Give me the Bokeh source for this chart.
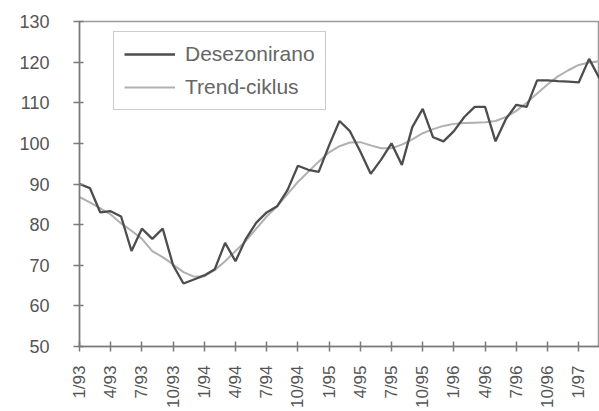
import math
from bokeh.plotting import figure
from bokeh.models import ColumnDataSource, FixedTicker, Legend, LegendItem
from bokeh.embed import file_html
from bokeh.resources import INLINE

# months since 1/93 (0 = 1/93 ... 50 = 3/97)
months = list(range(51))

desezonirano = [90, 89, 83, 83.3, 82, 73.5, 79, 76.5, 79, 70,
                65.5, 66.5, 67.5, 69, 75.5, 71, 76.5, 80.5, 83, 84.5,
                88.5, 94.5, 93.5, 93, 99.5, 105.5, 103, 98, 92.5, 96,
                100, 94.7, 104, 108.5, 101.5, 100.5, 103, 106.5, 109, 109,
                100.5, 106, 109.5, 109, 115.5, 115.5, 115.3, 115.2, 115, 120.8,
                116]

trend_ciklus = [86.8, 85.5, 84, 82.5, 80.3, 78.5, 76.5, 73.5, 72, 70.2,
                68.3, 67.2, 67.3, 68.8, 71, 73.5, 76, 79, 82, 84.5,
                87.5, 90.5, 93, 95.5, 97.8, 99.3, 100.2, 100.3, 99.5, 98.8,
                98.8, 99.7, 101, 102.5, 103.5, 104.3, 104.8, 105, 105.1, 105.2,
                105.5, 106.5, 108, 110, 112.3, 114.5, 116.5, 118, 119.3, 119.9,
                120.2]

tick_positions = [0, 3, 6, 9, 12, 15, 18, 21, 24, 27, 30, 33, 36, 39, 42, 45, 48]
tick_labels = ["1/93", "4/93", "7/93", "10/93", "1/94", "4/94", "7/94", "10/94",
               "1/95", "4/95", "7/95", "10/95", "1/96", "4/96", "7/96", "10/96", "1/97"]
y_ticks = [50, 60, 70, 80, 90, 100, 110, 120, 130]

src = ColumnDataSource(dict(x=months, d=desezonirano, t=trend_ciklus))

FONT = "Liberation Sans"
TEXT = "#555555"
AXIS = "#7a7a7a"

p = figure(width=599, height=411, x_range=(0, 50), y_range=(50, 130),
           output_backend="svg", toolbar_location=None,
           min_border_left=79, min_border_right=0, min_border_top=21,
           min_border_bottom=63)
p.background_fill_color = "white"
p.border_fill_color = "white"
p.outline_line_color = "#9a9a9a"
p.outline_line_width = 1.5
p.xgrid.visible = False
p.ygrid.visible = False

r_trend = p.line("x", "t", source=src, line_color="#b0b0b0", line_width=2)
r_des = p.line("x", "d", source=src, line_color="#4d4d4d", line_width=2.3)

xa = p.xaxis[0]
xa.ticker = FixedTicker(ticks=tick_positions)
xa.major_label_overrides = {t: l for t, l in zip(tick_positions, tick_labels)}
xa.major_label_orientation = math.pi / 2
xa.major_label_text_font = FONT
xa.major_label_text_font_size = "17px"
xa.major_label_text_color = TEXT
xa.major_label_standoff = 14
xa.major_tick_in = 5
xa.major_tick_out = 5
xa.minor_tick_line_color = None
xa.axis_line_color = AXIS
xa.major_tick_line_color = AXIS
xa.axis_line_width = 1.5
xa.major_tick_line_width = 1.5

ya = p.yaxis[0]
ya.ticker = FixedTicker(ticks=y_ticks)
ya.major_label_text_font = FONT
ya.major_label_text_font_size = "18px"
ya.major_label_text_color = TEXT
ya.major_label_standoff = 24
ya.major_tick_in = 4
ya.major_tick_out = 6
ya.minor_tick_line_color = None
ya.axis_line_color = AXIS
ya.major_tick_line_color = AXIS
ya.axis_line_width = 1.5
ya.major_tick_line_width = 1.5

legend = Legend(items=[LegendItem(label="Desezonirano", renderers=[r_des]),
                       LegendItem(label="Trend-ciklus", renderers=[r_trend])],
                location=(34, 236))
legend.label_text_font = FONT
legend.label_text_font_size = "21px"
legend.label_text_color = "#666666"
legend.border_line_color = "#9a9a9a"
legend.border_line_width = 1.5
legend.background_fill_color = "white"
legend.background_fill_alpha = 1.0
legend.padding = 10
legend.spacing = 9
legend.label_height = 22
legend.glyph_height = 22
legend.glyph_width = 51
legend.label_standoff = 10
legend.margin = 0
p.add_layout(legend)

open("out.html", "w").write(file_html(p, INLINE))
